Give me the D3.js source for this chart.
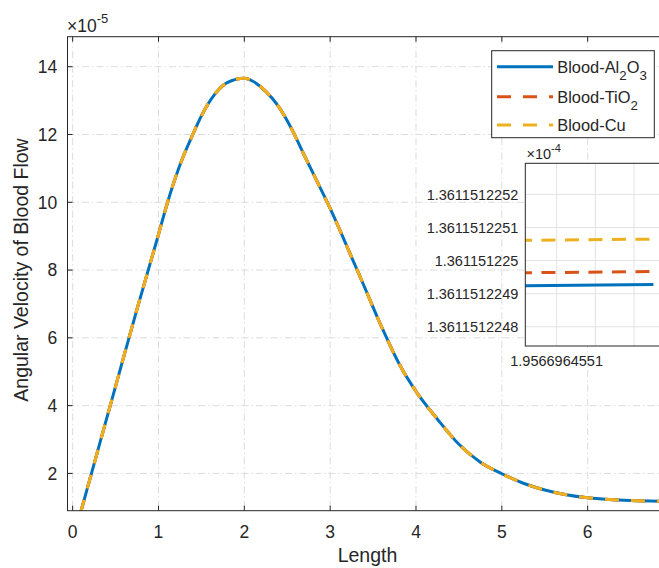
<!DOCTYPE html>
<html>
<head>
<meta charset="utf-8">
<script src="https://cdn.jsdelivr.net/npm/d3@7"></script>
<style>
body{margin:0;background:#fff;}
text{font-family:"Liberation Sans",Arial,Helvetica,sans-serif;fill:#262626;}
</style>
</head>
<body>
<script>
const SvgWidth = 659, SvgHeight = 568;

// main curve: Length vs angular velocity (x 1e-5)
var lengthX = [0.09, 0.25, 0.5, 0.75, 1.0, 1.1, 1.25, 1.4, 1.5, 1.65, 1.8, 2.0, 2.1, 2.25, 2.4, 2.55, 2.7, 2.85, 3.0, 3.2, 3.4, 3.6, 3.8, 4.0, 4.25, 4.5, 4.75, 5.0, 5.25, 5.5, 5.75, 6.0, 6.25, 6.5, 6.95];
var velocity = [0.82, 2.28, 4.57, 6.85, 9.05, 9.95, 11.1, 12.0, 12.55, 13.17, 13.53, 13.66, 13.57, 13.27, 12.82, 12.17, 11.38, 10.6, 9.82, 8.67, 7.5, 6.32, 5.25, 4.42, 3.6, 2.86, 2.33, 1.99, 1.71, 1.51, 1.37, 1.28, 1.23, 1.20, 1.175];
var xTicks = [0, 1, 2, 3, 4, 5, 6];
var yTicks = [2, 4, 6, 8, 10, 12, 14];

var seriesNames = [['Blood-Al', '2', 'O', '3'], ['Blood-TiO', '2'], ['Blood-Cu']];
var seriesColors = ['#0072BD', '#D95319', '#EDB120'];

// zoomed inset (x 1e-4)
var insetX = [1.95669645509, 1.956696455125];
var insetAl2O3 = [1.361151224924, 1.361151224928];
var insetTiO2 = [1.361151224963, 1.361151224967];
var insetCu = [1.361151225061, 1.361151225065];
var insetXTicks = [1.9566964551, 1.95669645511, 1.95669645512];
var insetXLabels = ['1.9566964551', '', ''];
var insetYTicks = [1.3611512248, 1.3611512249, 1.3611512250, 1.3611512251, 1.3611512252];
var insetYLabels = ['1.3611512248', '1.3611512249', '1.361151225', '1.3611512251', '1.3611512252'];

var margin = {top: 36.7, left: 67.5, bottom: 510.7, right: 667.5};
var ins = {top: 163.3, left: 525.3, bottom: 346, right: 672};

var svg = d3.select('body')
	.append('svg')
	.attr('width', SvgWidth)
	.attr('height', SvgHeight)
	.style('background-color', 'white');

var x = d3.scaleLinear().domain([-0.06, 6.93]).range([margin.left, margin.right]),
	y = d3.scaleLinear().domain([0.9, 14.885]).range([margin.bottom, margin.top]);

svg.append('clipPath').attr('id', 'plotclip')
	.append('rect')
	.attr('x', margin.left).attr('y', margin.top)
	.attr('width', margin.right - margin.left).attr('height', margin.bottom - margin.top);

// grid
var grid = svg.append('g').attr('stroke', '#dcdcdc').attr('stroke-width', 1).attr('stroke-dasharray', '7,3,1.5,3');
grid.selectAll('.gx').data(xTicks).enter().append('line')
	.attr('x1', d => x(d)).attr('x2', d => x(d))
	.attr('y1', margin.top).attr('y2', margin.bottom);
grid.selectAll('.gy').data(yTicks).enter().append('line')
	.attr('x1', margin.left).attr('x2', margin.right)
	.attr('y1', d => y(d)).attr('y2', d => y(d));

// curves
var pts = lengthX.map((d, i) => [d, velocity[i]]);
var line = d3.line()
	.x(d => x(d[0]))
	.y(d => y(d[1]))
	.curve(d3.curveMonotoneX);

var curves = svg.append('g').attr('clip-path', 'url(#plotclip)');
seriesColors.forEach(function(c, i) {
	curves.append('path')
		.datum(pts)
		.attr('fill', 'none')
		.attr('stroke', c)
		.attr('stroke-width', 3)
		.attr('stroke-dasharray', i == 0 ? null : '14,12')
		.attr('d', line);
});

// axes box
var ax = svg.append('g').attr('stroke', '#262626').attr('stroke-width', 1).attr('fill', 'none');
ax.append('rect')
	.attr('x', margin.left).attr('y', margin.top)
	.attr('width', margin.right - margin.left).attr('height', margin.bottom - margin.top);
xTicks.forEach(function(d) {
	ax.append('line').attr('x1', x(d)).attr('x2', x(d)).attr('y1', margin.bottom).attr('y2', margin.bottom - 5);
	ax.append('line').attr('x1', x(d)).attr('x2', x(d)).attr('y1', margin.top).attr('y2', margin.top + 5);
});
yTicks.forEach(function(d) {
	ax.append('line').attr('x1', margin.left).attr('x2', margin.left + 5).attr('y1', y(d)).attr('y2', y(d));
});

svg.selectAll('.xl').data(xTicks).enter().append('text')
	.attr('x', d => x(d)).attr('y', 537.5)
	.attr('text-anchor', 'middle').attr('font-size', 17.5)
	.text(d => d);
svg.selectAll('.yl').data(yTicks).enter().append('text')
	.attr('x', 57.3).attr('y', d => y(d)).attr('dy', '0.36em')
	.attr('text-anchor', 'end').attr('font-size', 17.5)
	.text(d => d);

var ex = svg.append('text').attr('x', 67).attr('y', 32).attr('font-size', 17.5);
ex.append('tspan').text('\u00d710');
ex.append('tspan').attr('dy', -9).attr('font-size', 13).text('-5');

svg.append('text').attr('x', 367.5).attr('y', 562)
	.attr('text-anchor', 'middle').attr('font-size', 19.5).text('Length');
svg.append('text')
	.attr('transform', 'translate(28,270) rotate(-90)')
	.attr('text-anchor', 'middle').attr('font-size', 19.5)
	.text('Angular Velocity of Blood Flow');

// legend
var lg = svg.append('g');
lg.append('rect').attr('x', 491.7).attr('y', 50.7).attr('width', 162.6).attr('height', 87)
	.attr('fill', 'white').attr('stroke', '#262626').attr('stroke-width', 1);
var rowY = [66.7, 96.7, 125];
seriesNames.forEach(function(parts, i) {
	lg.append('line').attr('x1', 497).attr('x2', 553).attr('y1', rowY[i]).attr('y2', rowY[i])
		.attr('stroke', seriesColors[i]).attr('stroke-width', 3)
		.attr('stroke-dasharray', i == 0 ? null : '14,12');
	var t = lg.append('text').attr('x', 557.3).attr('y', rowY[i] + 5.8).attr('font-size', 16.4);
	parts.forEach(function(p, j) {
		var sub = j % 2 == 1;
		t.append('tspan').attr('dy', j == 0 ? 0 : (sub ? 7 : -7))
			.attr('font-size', sub ? 13.3 : 16.4).text(p);
	});
});

// inset
var ix = d3.scaleLinear().domain([insetXTicks[0] - 0.81e-11, insetXTicks[0] + 2.98e-11]).range([ins.left, ins.right]),
	iy = d3.scaleLinear().domain([1.361151224742, 1.361151225294]).range([ins.bottom, ins.top]);

svg.append('clipPath').attr('id', 'insclip')
	.append('rect')
	.attr('x', ins.left).attr('y', ins.top)
	.attr('width', ins.right - ins.left).attr('height', ins.bottom - ins.top);

var ig = svg.append('g');
ig.append('rect').attr('x', ins.left).attr('y', ins.top)
	.attr('width', ins.right - ins.left).attr('height', ins.bottom - ins.top)
	.attr('fill', 'white');
ig.selectAll('.igx').data(insetXTicks).enter().append('line')
	.attr('x1', d => ix(d)).attr('x2', d => ix(d))
	.attr('y1', ins.top).attr('y2', ins.bottom)
	.attr('stroke', '#e3e3e3');
ig.selectAll('.igy').data(insetYTicks).enter().append('line')
	.attr('x1', ins.left).attr('x2', ins.right)
	.attr('y1', d => iy(d)).attr('y2', d => iy(d))
	.attr('stroke', '#e3e3e3');

var iline = d3.line().x(d => ix(d[0])).y(d => iy(d[1]));
var insetSeries = [insetAl2O3, insetTiO2, insetCu];
var ic = ig.append('g').attr('clip-path', 'url(#insclip)');
insetSeries.forEach(function(s, i) {
	ic.append('path')
		.datum(insetX.map((d, k) => [d, s[k]]))
		.attr('fill', 'none')
		.attr('stroke', seriesColors[i])
		.attr('stroke-width', 3)
		.attr('stroke-dasharray', i == 0 ? null : '14,9.5')
		.attr('d', iline);
});

ig.append('rect').attr('x', ins.left).attr('y', ins.top)
	.attr('width', ins.right - ins.left).attr('height', ins.bottom - ins.top)
	.attr('fill', 'none').attr('stroke', '#262626');
ig.selectAll('.ixl').data(insetXTicks).enter().append('text')
	.attr('x', d => ix(d)).attr('y', 365.5)
	.attr('text-anchor', 'middle').attr('font-size', 14.5)
	.text((d, i) => insetXLabels[i]);
ig.selectAll('.iyl').data(insetYTicks).enter().append('text')
	.attr('x', ins.left - 7).attr('y', d => iy(d)).attr('dy', '0.36em')
	.attr('text-anchor', 'end').attr('font-size', 14.5)
	.text((d, i) => insetYLabels[i]);
var iex = ig.append('text').attr('x', 526.5).attr('y', 159).attr('font-size', 14.5);
iex.append('tspan').text('\u00d710');
iex.append('tspan').attr('dy', -7).attr('font-size', 11).text('-4');
</script>
</body>
</html>
